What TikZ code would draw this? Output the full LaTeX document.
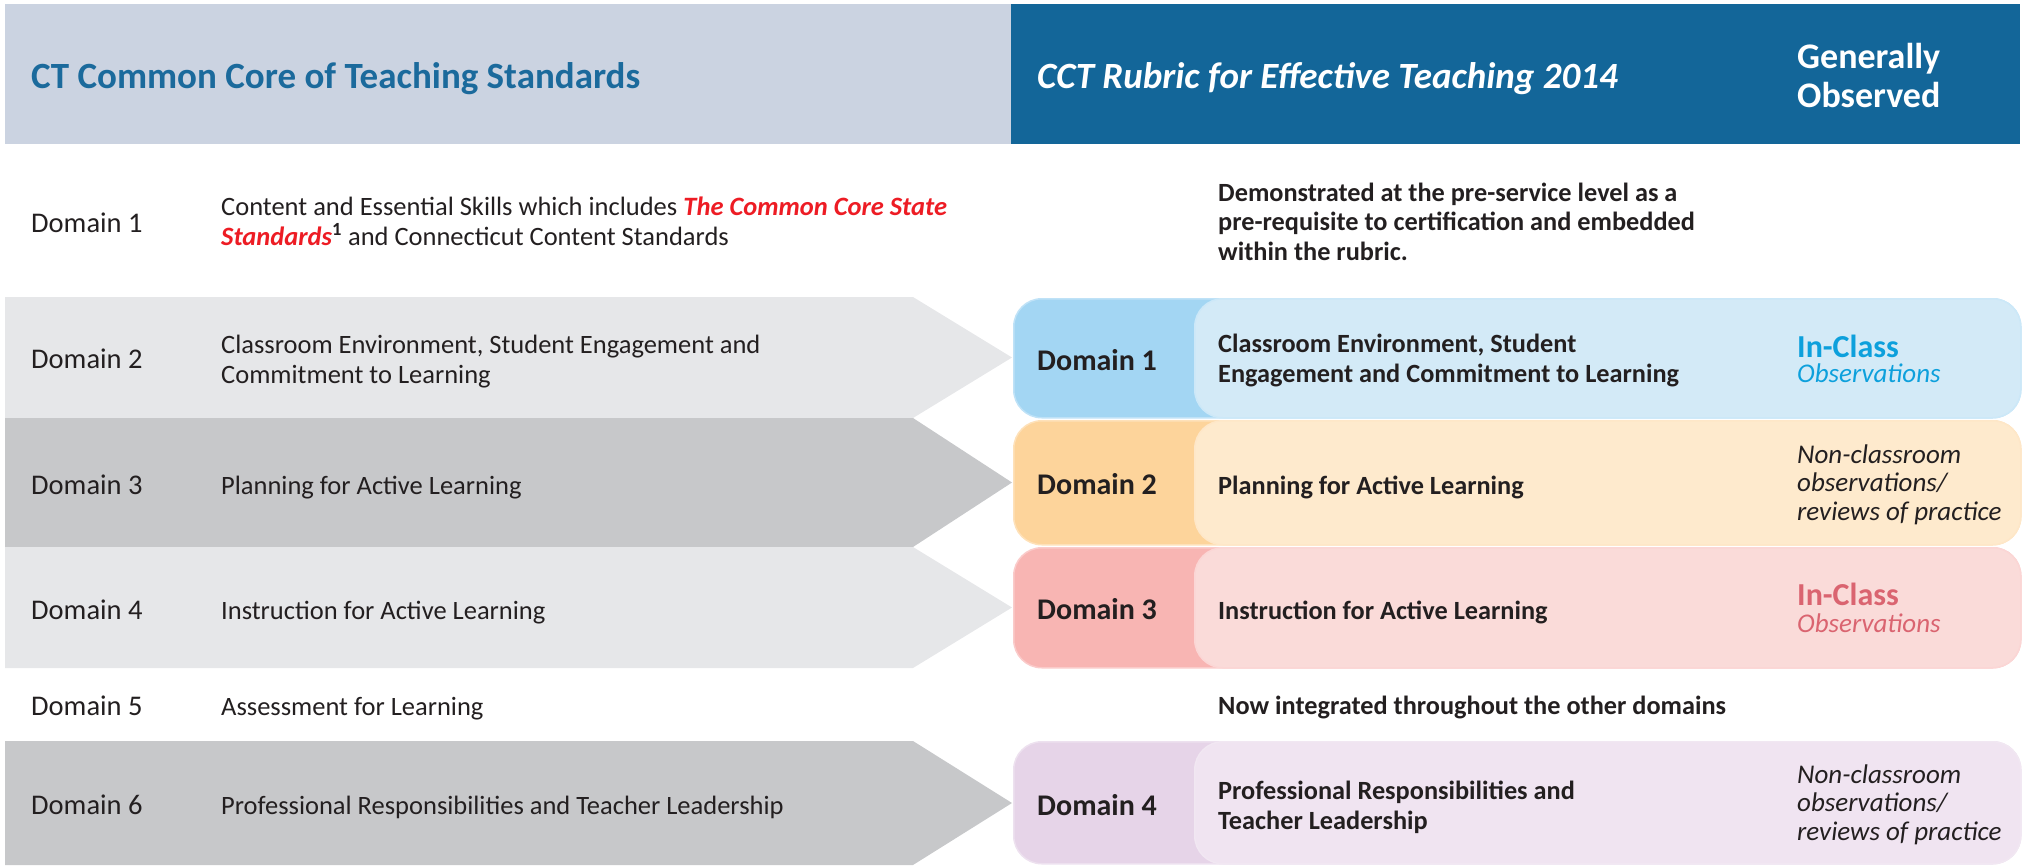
\documentclass[tikz,border=0pt]{standalone}
\usepackage{fontspec}
\setmainfont{Carlito}
\usepackage{xcolor}
\usetikzlibrary{positioning}
\def\sz#1#2{\fontsize{#1pt}{#2pt}\selectfont}
\definecolor{hdrgrey}{HTML}{CBD3E1}
\definecolor{hdrblue}{HTML}{136699}
\definecolor{titleblue}{HTML}{1B6A9C}
\definecolor{bandlight}{HTML}{E6E7E9}
\definecolor{banddark}{HTML}{C7C8CA}
\definecolor{ink}{HTML}{231F20}
\definecolor{redtxt}{HTML}{ED1C24}
\definecolor{blueD}{HTML}{A3D6F3}
\definecolor{blueL}{HTML}{D3EAF7}
\definecolor{orangeD}{HTML}{FDD49B}
\definecolor{orangeL}{HTML}{FEEACD}
\definecolor{pinkD}{HTML}{F8B5B3}
\definecolor{pinkL}{HTML}{FADBD9}
\definecolor{lilacD}{HTML}{E6D4E8}
\definecolor{lilacL}{HTML}{F0E4F1}
\definecolor{inblue}{HTML}{0DA0DC}
\definecolor{inpink}{HTML}{DA6470}
\def\red#1{\textcolor{redtxt}{\textbf{\textit{#1}}}}

\begin{document}
\begin{tikzpicture}[x=1pt,y=-1pt,every node/.style={inner sep=0pt,anchor=base west,align=left,text=ink},
  lab/.style={font=\sz{28.5}{34}},
  desc/.style={font=\sz{26.5}{30}},
  rdom/.style={font=\bfseries\sz{30}{36}},
  rdesc/.style={font=\bfseries\sz{26.3}{29.5}},
  obs/.style={font=\itshape\sz{27}{28.5}},
  incls/.style={font=\bfseries\sz{32}{36}},
  tabback/.style={rectangle,rounded corners=28pt,anchor=north west,minimum width=1007pt,minimum height=#1,line width=1.5pt},
  tabfront/.style={rectangle,rounded corners=28pt,anchor=north east,minimum width=826pt,minimum height=#1,line width=1.5pt}]
\useasboundingbox (0,0) rectangle (2023,865);

% headers
\node[fill=hdrgrey,anchor=north west,minimum width=1006pt,minimum height=140pt] (hl) at (5,4) {};
\node[fill=hdrblue,anchor=north west,minimum width=1009pt,minimum height=140pt] (hr) at (1011,4) {};
\node[font=\bfseries\sz{37}{40},text=titleblue] (tl) at (31,88) {CT Common Core of Teaching Standards};
\node[font=\bfseries\itshape\sz{37}{40},text=white] (tr) at (1037,88) {CCT Rubric for Effective Teaching 2014};
\node[font=\bfseries\sz{36}{39},text=white] (go) at (1797,107) {Generally\\Observed};

% arrows, left side
\fill[bandlight] (5,297) -- (913,297) -- (1012,357.5) -- (913,418) -- (5,418) -- cycle;
\fill[banddark] (5,418) -- (913,418) -- (1012,482.5) -- (913,547) -- (5,547) -- cycle;
\fill[bandlight] (5,547) -- (913,547) -- (1012,607.5) -- (913,668) -- (5,668) -- cycle;
\fill[banddark] (5,741) -- (913,741) -- (1012,803) -- (913,865) -- (5,865) -- cycle;

\node[lab] (l1) at (31,232) {Domain 1};
\node[desc] (d1) at (221,245) {Content and Essential Skills which includes \red{The Common Core State}\\\red{Standards}\textsuperscript{\textbf{1}} and Connecticut Content Standards};
\node[lab] (l2) at (31,368) {Domain 2};
\node[desc] (d2) at (221,383) {Classroom Environment, Student Engagement and\\Commitment to Learning};
\node[lab] (l3) at (31,494) {Domain 3};
\node[desc] (d3) at (221,494) {Planning for Active Learning};
\node[lab] (l4) at (31,619) {Domain 4};
\node[desc] (d4) at (221,619) {Instruction for Active Learning};
\node[lab] (l5) at (31,715) {Domain 5};
\node[desc] (d5) at (221,715) {Assessment for Learning};
\node[lab] (l6) at (31,814) {Domain 6};
\node[desc] (d6) at (221,814) {Professional Responsibilities and Teacher Leadership};
% <- end left

\node[rdesc] (pre) at (1218,260) {Demonstrated at the pre-service level as a\\pre-requisite to certification and embedded\\within the rubric.};

\node[tabback=119pt,fill=blueD,draw=blueD!70!white] (b1) at (1013,298) {};
\node[tabfront=119pt,fill=blueL,draw=blueD!55!white] (f1) at (b1.north east) {};
\node[rdom] (r1) at (1037,370) {Domain 1};
\node[rdesc] (e1) at (1218,382) {Classroom Environment, Student\\Engagement and Commitment to Learning};
\node[incls,text=inblue] (i1) at (1797,357) {In-Class};
\node[obs,text=inblue] (o1) at (1797,382) {Observations};
% <- end domain 1

\node[tabback=124pt,fill=orangeD,draw=orangeD!70!white] (b2) at (1013,420) {};
\node[tabfront=124pt,fill=orangeL,draw=orangeD!55!white] (f2) at (b2.north east) {};
\node[rdom] (r2) at (1037,494) {Domain 2};
\node[rdesc] (e2) at (1218,494) {Planning for Active Learning};
\node[obs] (o2) at (1797,520) {Non-classroom\\observations/\\reviews of practice};
% <- end domain 2

\node[tabback=120pt,fill=pinkD,draw=pinkD!70!white] (b3) at (1013,547) {};
\node[tabfront=120pt,fill=pinkL,draw=pinkD!55!white] (f3) at (b3.north east) {};
\node[rdom] (r3) at (1037,619) {Domain 3};
\node[rdesc] (e3) at (1218,619) {Instruction for Active Learning};
\node[incls,text=inpink] (i3) at (1797,605) {In-Class};
\node[obs,text=inpink] (o3) at (1797,632) {Observations};
% <- end domain 3

\node[rdesc] (now) at (1218,714) {Now integrated throughout the other domains};

\node[tabback=122pt,fill=lilacD,draw=lilacD!70!white] (b4) at (1013,741) {};
\node[tabfront=122pt,fill=lilacL,draw=lilacD!55!white] (f4) at (b4.north east) {};
\node[rdom] (r4) at (1037,815) {Domain 4};
\node[rdesc] (e4) at (1218,829) {Professional Responsibilities and\\Teacher Leadership};
\node[obs] (o4) at (1797,840) {Non-classroom\\observations/\\reviews of practice};
% <- end domain 4
\end{tikzpicture}
\end{document}
